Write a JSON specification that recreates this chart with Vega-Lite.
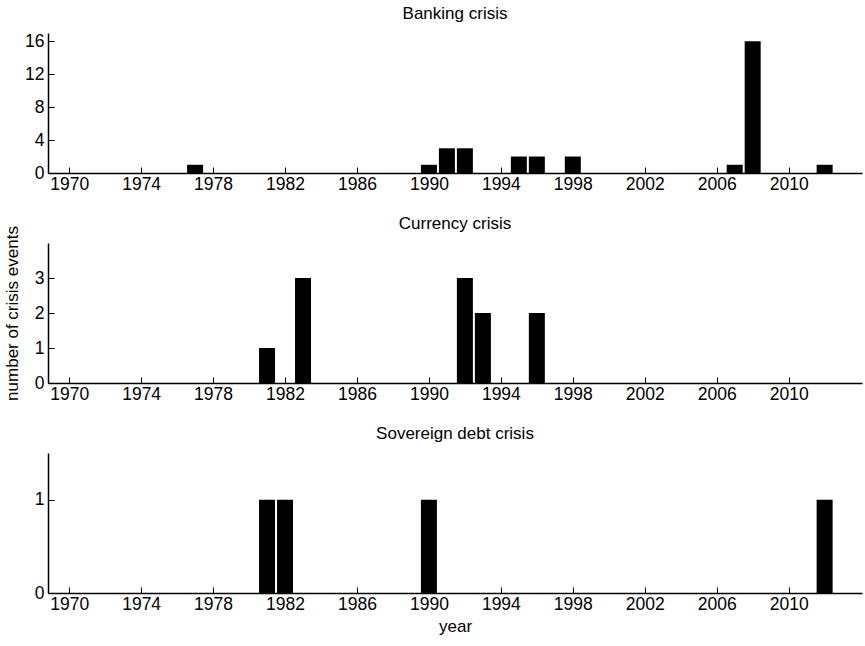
{
  "$schema": "https://vega.github.io/schema/vega-lite/v6.json",
  "padding": {"left": 3, "top": 5, "right": 3, "bottom": 4},
  "background": "white",
  "spacing": 70,
  "bounds": "flush",
  "config": {
    "font": "Liberation Sans",
    "view": {"stroke": null},
    "axis": {
      "grid": false,
      "domainColor": "black",
      "domainWidth": 1.5,
      "tickColor": "black",
      "tickSize": -6,
      "labelColor": "black",
      "titleFontWeight": "normal",
      "titleColor": "black",
      "labelFont": "Liberation Sans",
      "titleFont": "Liberation Sans"
    },
    "title": {"fontWeight": "normal", "font": "Liberation Sans", "color": "black"}
  },
  "datasets": {
    "banking": [
      {"year": 1977, "count": 1},
      {"year": 1990, "count": 1},
      {"year": 1991, "count": 3},
      {"year": 1992, "count": 3},
      {"year": 1995, "count": 2},
      {"year": 1996, "count": 2},
      {"year": 1998, "count": 2},
      {"year": 2007, "count": 1},
      {"year": 2008, "count": 16},
      {"year": 2012, "count": 1}
    ],
    "currency": [
      {"year": 1981, "count": 1},
      {"year": 1983, "count": 3},
      {"year": 1992, "count": 3},
      {"year": 1993, "count": 2},
      {"year": 1996, "count": 2}
    ],
    "sovereign": [
      {"year": 1981, "count": 1},
      {"year": 1982, "count": 1},
      {"year": 1990, "count": 1},
      {"year": 2012, "count": 1}
    ]
  },
  "vconcat": [
    {
      "title": {"text": "Banking crisis", "fontSize": 17, "offset": 9},
      "width": 814,
      "height": 140,
      "data": {"name": "banking"},
      "mark": {"type": "bar", "size": 16, "color": "black"},
      "encoding": {
        "x": {"field": "year", "type": "quantitative", "scale": {"domain": [1969.1, 2013.8], "nice": false, "zero": false},
              "axis": {"values": [1970,1974,1978,1982,1986,1990,1994,1998,2002,2006,2010], "format": "d", "title": null, "labelPadding": 8, "labelFontSize": 17.5}},
        "y": {"field": "count", "type": "quantitative", "scale": {"domain": [0, 17], "nice": false},
              "axis": {"values": [0,4,8,12,16], "title": null, "labelPadding": 10, "labelFontSize": 17.5}}
      }
    },
    {
      "title": {"text": "Currency crisis", "fontSize": 17, "offset": 8, "dy": 15},
      "width": 814,
      "height": 140,
      "data": {"name": "currency"},
      "mark": {"type": "bar", "size": 16, "color": "black"},
      "encoding": {
        "x": {"field": "year", "type": "quantitative", "scale": {"domain": [1969.1, 2013.8], "nice": false, "zero": false},
              "axis": {"values": [1970,1974,1978,1982,1986,1990,1994,1998,2002,2006,2010], "format": "d", "title": null, "labelPadding": 8, "labelFontSize": 17.5}},
        "y": {"field": "count", "type": "quantitative", "scale": {"domain": [0, 4], "nice": false},
              "axis": {"values": [0,1,2,3], "title": "number of crisis events", "titleFontSize": 17, "labelPadding": 10, "labelFontSize": 17.5, "titlePadding": 13}}
      }
    },
    {
      "title": {"text": "Sovereign debt crisis", "fontSize": 17, "offset": 10},
      "width": 814,
      "height": 140,
      "data": {"name": "sovereign"},
      "mark": {"type": "bar", "size": 16, "color": "black"},
      "encoding": {
        "x": {"field": "year", "type": "quantitative", "scale": {"domain": [1969.1, 2013.8], "nice": false, "zero": false},
              "axis": {"values": [1970,1974,1978,1982,1986,1990,1994,1998,2002,2006,2010], "format": "d", "title": "year", "titleFontSize": 17, "labelPadding": 8, "labelFontSize": 17.5, "titlePadding": 6}},
        "y": {"field": "count", "type": "quantitative", "scale": {"domain": [0, 1.5], "nice": false},
              "axis": {"values": [0,1], "title": null, "labelPadding": 10, "labelFontSize": 17.5}}
      }
    }
  ]
}
